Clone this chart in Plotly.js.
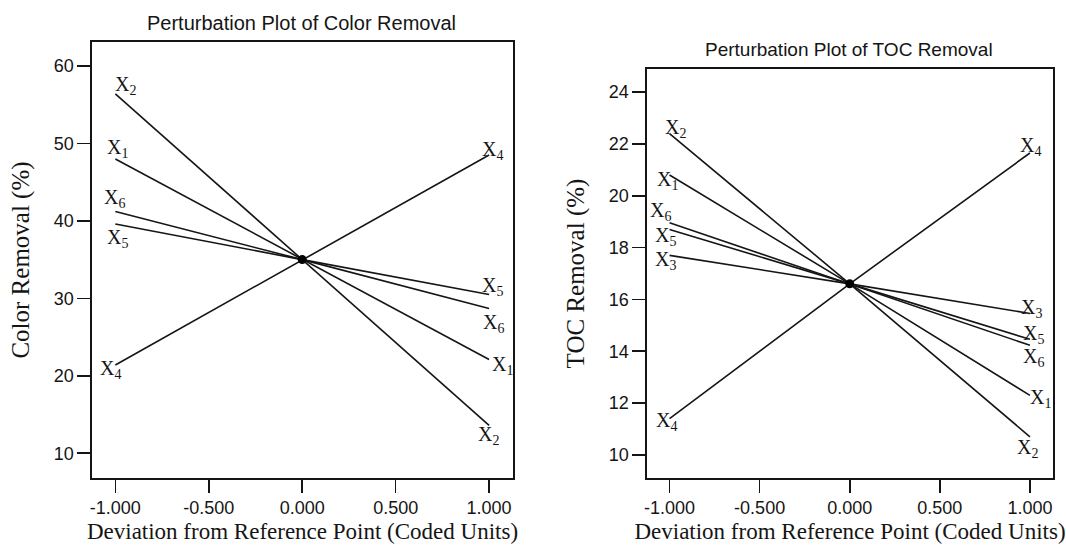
<!DOCTYPE html>
<html>
<head>
<meta charset="utf-8">
<script src="https://cdn.plot.ly/plotly-3.0.1.min.js"></script>
<style>html,body{margin:0;padding:0;background:#fff;}#chart{width:1066px;height:553px;}</style>
</head>
<body>
<div id="chart"></div>
<script>
// Coded deviation from reference point
const xCoded = [-1, 0, 1];
const factorNames = ['x1', 'x2', 'x3', 'x4', 'x5', 'x6'];

// Color removal (%)
const colorX1 = [48.0, 35.0, 22.1];
const colorX2 = [56.4, 35.0, 13.6];
const colorX4 = [21.4, 35.0, 48.5];
const colorX5 = [39.6, 35.0, 30.5];
const colorX6 = [41.2, 35.0, 28.7];
const colorCenter = [35.0];

// TOC removal (%)
const tocX1 = [20.8, 16.6, 12.3];
const tocX2 = [22.4, 16.6, 10.7];
const tocX3 = [17.7, 16.6, 15.46];
const tocX4 = [11.4, 16.6, 21.65];
const tocX5 = [18.7, 16.6, 14.46];
const tocX6 = [18.96, 16.6, 14.23];
const tocCenter = [16.6];

const xTickVals = [-1, -0.5, 0, 0.5, 1];
const xTickText = ['-1.000', '-0.500', '0.000', '0.500', '1.000'];
const colorTicks = [10, 20, 30, 40, 50, 60];
const tocTicks = [10, 12, 14, 16, 18, 20, 22, 24];

const ink = '#151515';
const lineStyle = {color: ink, width: 1.6};
function lineTrace(y, xa, ya, name) {
  return {x: xCoded, y: y, xaxis: xa, yaxis: ya, mode: 'lines', line: lineStyle, name: name, showlegend: false, hoverinfo: 'skip'};
}
function centerTrace(y, xa, ya) {
  return {x: [0], y: y, xaxis: xa, yaxis: ya, mode: 'markers', marker: {color: '#000', size: 9}, showlegend: false};
}

const traces = [
  lineTrace(colorX1, 'x', 'y', 'x1'),
  lineTrace(colorX2, 'x', 'y', 'x2'),
  lineTrace(colorX4, 'x', 'y', 'x4'),
  lineTrace(colorX5, 'x', 'y', 'x5'),
  lineTrace(colorX6, 'x', 'y', 'x6'),
  centerTrace(colorCenter, 'x', 'y'),
  lineTrace(tocX1, 'x2', 'y2', 'x1'),
  lineTrace(tocX2, 'x2', 'y2', 'x2'),
  lineTrace(tocX3, 'x2', 'y2', 'x3'),
  lineTrace(tocX4, 'x2', 'y2', 'x4'),
  lineTrace(tocX5, 'x2', 'y2', 'x5'),
  lineTrace(tocX6, 'x2', 'y2', 'x6'),
  centerTrace(tocCenter, 'x2', 'y2')
];

const serif = 'Liberation Serif, Times New Roman, serif';
const sans = 'Liberation Sans, Arial, sans-serif';

function lab(xr, yr, x, y, n, dx, dy) {
  return {xref: xr, yref: yr, x: x, y: y, text: 'X<sub>' + n + '</sub>', showarrow: false,
          xshift: dx, yshift: dy, xanchor: 'center', yanchor: 'middle',
          font: {family: serif, size: 20, color: ink}};
}

const annotations = [
  // left plot labels
  lab('x', 'y', -1, colorX2[0], 2, 10, 8),
  lab('x', 'y', -1, colorX1[0], 1, 2, 10),
  lab('x', 'y', -1, colorX6[0], 6, -1, 13),
  lab('x', 'y', -1, colorX5[0], 5, 2, -15),
  lab('x', 'y', -1, colorX4[0], 4, -5, -5),
  lab('x', 'y', 1, colorX4[2], 4, 3, 5),
  lab('x', 'y', 1, colorX5[2], 5, 3, 8),
  lab('x', 'y', 1, colorX6[2], 6, 4, -15),
  lab('x', 'y', 1, colorX1[2], 1, 13, -6),
  lab('x', 'y', 1, colorX2[2], 2, -1, -10),
  // right plot labels
  lab('x2', 'y2', -1, tocX2[0], 2, 6, 5),
  lab('x2', 'y2', -1, tocX1[0], 1, -2, -5),
  lab('x2', 'y2', -1, tocX6[0], 6, -9, 11),
  lab('x2', 'y2', -1, tocX5[0], 5, -4, -7),
  lab('x2', 'y2', -1, tocX3[0], 3, -4, -5),
  lab('x2', 'y2', -1, tocX4[0], 4, -3, -3),
  lab('x2', 'y2', 1, tocX4[2], 4, 1, 6),
  lab('x2', 'y2', 1, tocX3[2], 3, 2, 5),
  lab('x2', 'y2', 1, tocX5[2], 5, 4, 5),
  lab('x2', 'y2', 1, tocX6[2], 6, 4, -12),
  lab('x2', 'y2', 1, tocX1[2], 1, 11, -3),
  lab('x2', 'y2', 1, tocX2[2], 2, -2, -12),
  // subplot titles
  {xref: 'paper', yref: 'paper', x: 301.5 / 1066, y: 1 - 23 / 553, text: 'Perturbation Plot of Color Removal',
   showarrow: false, xanchor: 'center', yanchor: 'middle', font: {family: sans, size: 20, color: ink}},
  {xref: 'paper', yref: 'paper', x: 849 / 1066, y: 1 - 50 / 553, text: 'Perturbation Plot of TOC Removal',
   showarrow: false, xanchor: 'center', yanchor: 'middle', font: {family: sans, size: 19, color: ink}}
];

function xAxis(domain, anchor) {
  return {
    domain: domain, anchor: anchor, range: [-1.125, 1.128],
    tickmode: 'array', tickvals: xTickVals, ticktext: xTickText,
    ticks: 'outside', ticklen: 13, tickwidth: 1.6, tickcolor: ink,
    showline: true, linewidth: 1.6, linecolor: ink, mirror: true,
    showgrid: false, zeroline: false,
    tickfont: {family: sans, size: 18, color: ink},
    title: {text: 'Deviation from Reference Point (Coded Units)', font: {family: serif, size: 23, color: ink}, standoff: 5}
  };
}
function yAxis(domain, anchor, range, ticks, title) {
  return {
    domain: domain, anchor: anchor, range: range,
    tickmode: 'array', tickvals: ticks,
    ticks: 'outside', ticklen: 13, tickwidth: 1.6, tickcolor: ink,
    showline: true, linewidth: 1.6, linecolor: ink, mirror: true,
    showgrid: false, zeroline: false,
    tickfont: {family: sans, size: 18, color: ink},
    title: {text: title, font: {family: serif, size: 25, color: ink}, standoff: 17}
  };
}

const layout = {
  width: 1066, height: 553,
  margin: {l: 0, r: 0, t: 0, b: 0},
  paper_bgcolor: '#fff', plot_bgcolor: '#fff',
  showlegend: false,
  xaxis: xAxis([92 / 1066, 513 / 1066], 'y'),
  yaxis: yAxis([1 - 478 / 553, 1 - 42 / 553], 'x', [6.8, 63.1], colorTicks, 'Color Removal (%)'),
  xaxis2: xAxis([647 / 1066, 1053 / 1066], 'y2'),
  yaxis2: yAxis([1 - 478 / 553, 1 - 69 / 553], 'x2', [9.11, 24.89], tocTicks, 'TOC Removal (%)'),
  annotations: annotations
};

Plotly.newPlot('chart', traces, layout, {displayModeBar: false, staticPlot: true});
</script>
</body>
</html>
